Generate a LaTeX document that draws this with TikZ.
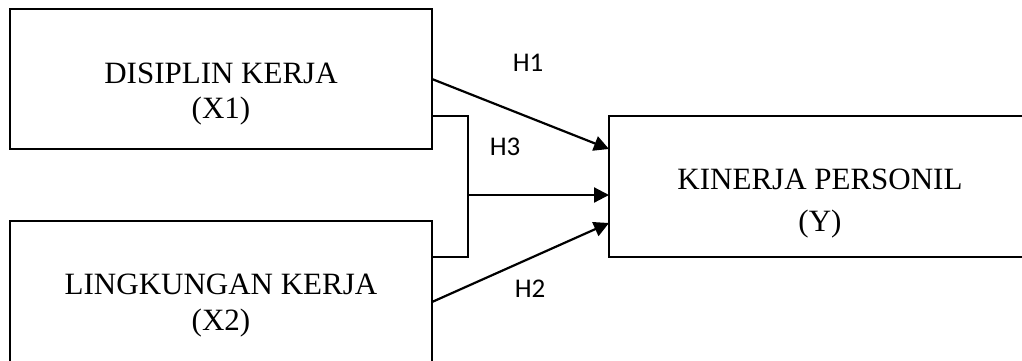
\documentclass[tikz,border=0pt]{standalone}
\usepackage{fontspec}
\setmainfont{Liberation Serif}
\newfontfamily\labfont{Carlito}
\usetikzlibrary{arrows.meta}

\tikzset{
  varbox/.style={draw, line width=1.6pt, inner sep=0pt, outer sep=0pt,
    minimum width=422pt, minimum height=140pt},
  vartext/.style={anchor=base, inner sep=0pt, font=\fontsize{31}{35}\selectfont},
  hyplabel/.style={anchor=base, inner sep=0pt, font=\labfont\fontsize{27}{30}\selectfont},
  link/.style={line width=2.2pt, -{Triangle[length=15pt,width=15pt]}},
  joiner/.style={line width=1.8pt}
}

\begin{document}
\begin{tikzpicture}[x=1pt,y=-1pt]
  \useasboundingbox (0,0) rectangle (1022,360);
  \clip (0,0) rectangle (1022,360);

  % variable boxes
  \node[varbox] (x1) at (221,79) {};
  \node[varbox, minimum height=170pt] (x2) at (221,306) {};
  \node[varbox, minimum height=141pt] (y) at (820,186.5) {};

  % box captions
  \node[vartext] (x1a) at (221,83) {DISIPLIN KERJA};
  \node[vartext] (x1b) at (221,118) {(X1)};
  \node[vartext] (x2a) at (221,294) {LINGKUNGAN KERJA};
  \node[vartext] (x2b) at (221,330) {(X2)};
  \node[vartext] (ya) at (820,189) {KINERJA PERSONIL};
  \node[vartext] (yb) at (820,231) {(Y)};

  % connector end points
  \coordinate (x2out) at (432,302);
  \coordinate (jtop) at (432,116);
  \coordinate (jbot) at (432,257);
  \coordinate (jmid) at (468,195);
  \coordinate (yin1) at (609,149);
  \coordinate (yin3) at (609,195);
  \coordinate (yin2) at (609,223);

  % H1 and H2 paths
  \draw[link] (x1.east) -- (yin1);
  \draw[link] (x2out) -- (yin2);

  % joint path H3
  \draw[joiner] (jtop) -- (468,116) -- (468,257) -- (jbot);
  \draw[link] (jmid) -- (yin3);

  % hypothesis labels
  \node[hyplabel] (h1) at (528,71) {H1};
  \node[hyplabel] (h3) at (505,155) {H3};
  \node[hyplabel] (h2) at (530,297) {H2};
\end{tikzpicture}
\end{document}
